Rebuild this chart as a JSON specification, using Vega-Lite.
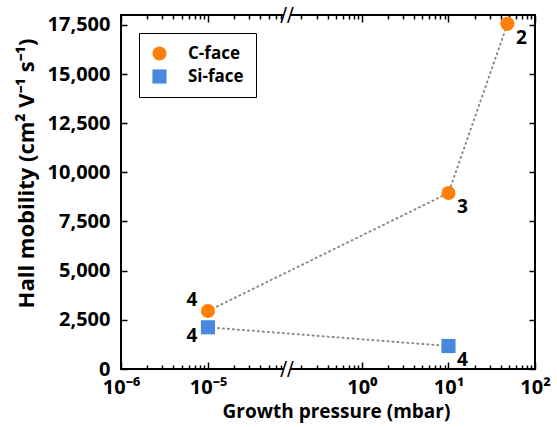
{
  "$schema": "https://vega.github.io/schema/vega-lite/v6.json",
  "width": 414,
  "height": 354,
  "autosize": {"type": "none"},
  "padding": {"left": 121, "top": 15, "right": 22, "bottom": 58},
  "background": "white",
  "config": {
    "font": "Open Sans",
    "view": {"stroke": "black", "strokeWidth": 2},
    "axis": {
      "labelFont": "Open Sans",
      "labelFontWeight": "bold",
      "labelFontSize": 20,
      "labelColor": "black",
      "titleFont": "Open Sans",
      "titleFontWeight": "bold",
      "titleFontSize": 19,
      "titleColor": "black",
      "ticks": true,
      "tickColor": "black",
      "tickOpacity": 1,
      "tickWidth": 1.5,
      "domain": false,
      "grid": false
    },
    "legend": {
      "labelFont": "Open Sans",
      "labelFontWeight": "bold",
      "labelFontSize": 17,
      "labelColor": "black"
    }
  },
  "datasets": {
    "pts": [
      {"series": "C-face", "pressure": 0.00001, "mobility": 2950, "n": "4"},
      {"series": "C-face", "pressure": 10, "mobility": 8950, "n": "3"},
      {"series": "C-face", "pressure": 48, "mobility": 17550, "n": "2"},
      {"series": "Si-face", "pressure": 0.00001, "mobility": 2120, "n": "4"},
      {"series": "Si-face", "pressure": 10, "mobility": 1170, "n": "4"}
    ],
    "brk": [
      {"pressure": 0.001, "mobility": 0},
      {"pressure": 0.001, "mobility": 18000}
    ]
  },
  "resolve": {"axis": {"x": "independent", "y": "independent"}},
  "layer": [
    {
      "data": {"name": "pts"},
      "mark": {"type": "line", "color": "#8a8a8a", "strokeWidth": 2, "strokeDash": [1, 4], "strokeCap": "round"},
      "encoding": {
        "x": {
          "field": "pressure", "type": "quantitative",
          "scale": {"type": "log", "domain": [0.000001, 0.000081, 0.136, 100], "range": [0, 166, 166, 414], "nice": false, "zero": false},
          "axis": {
            "orient": "bottom",
            "offset": -7,
            "values": [0.000001, 0.00001, 1, 10, 100],
            "labelExpr": "datum.value < 5e-6 ? '10⁻⁶' : datum.value < 5e-5 ? '10⁻⁵' : datum.value < 5 ? '10⁰' : datum.value < 50 ? '10¹' : '10²'",
            "ticks": true,
            "tickColor": "black",
            "tickWidth": 1.5,
            "tickSize": 7,
            "labelPadding": 8,
            "labelFlush": false,
            "labelOverlap": false,
            "title": "Growth pressure (mbar)",
            "titlePadding": 5,
            "titleX": 215
          }
        },
        "y": {
          "field": "mobility", "type": "quantitative",
          "scale": {"domain": [0, 18000], "nice": false},
          "axis": {
            "orient": "left",
            "offset": -6,
            "values": [0, 2500, 5000, 7500, 10000, 12500, 15000, 17500],
            "format": ",.0f",
            "ticks": true,
            "tickColor": "black",
            "tickSize": 6,
            "labelPadding": 11,
            "title": "Hall mobility (cm² V⁻¹ s⁻¹)",
            "titleFontSize": 22,
            "titlePadding": 9,
            "titleY": 158
          }
        },
        "detail": {"field": "series"}
      }
    },
    {
      "data": {"name": "pts"},
      "mark": {"type": "point", "filled": true, "opacity": 1, "size": 200},
      "encoding": {
        "x": {
          "field": "pressure", "type": "quantitative",
          "axis": {"orient": "top", "offset": -7, "values": [0.000001, 0.00001, 1, 10, 100], "labels": false, "ticks": true, "tickColor": "black", "tickSize": 7, "title": null}
        },
        "y": {
          "field": "mobility", "type": "quantitative",
          "axis": {"orient": "right", "offset": -6, "values": [0, 2500, 5000, 7500, 10000, 12500, 15000, 17500], "labels": false, "ticks": true, "tickColor": "black", "tickSize": 6, "title": null}
        },
        "color": {
          "field": "series", "type": "nominal",
          "scale": {"domain": ["C-face", "Si-face"], "range": ["#ff7f0a", "#4a88e0"]},
          "legend": {
            "title": null,
            "orient": "top-left",
            "offset": 18,
            "strokeColor": "black",
            "padding": 12,
            "rowPadding": 5,
            "symbolSize": 200,
            "labelOffset": 20,
            "symbolOpacity": 1
          }
        },
        "shape": {
          "field": "series", "type": "nominal",
          "scale": {"domain": ["C-face", "Si-face"], "range": ["circle", "square"]},
          "legend": null
        }
      }
    },
    {
      "data": {"name": "pts"},
      "transform": [{"filter": "datum.pressure > 1"}],
      "mark": {"type": "text", "dx": 14, "dy": 14, "fontSize": 19, "fontWeight": "bold", "color": "black", "font": "Open Sans"},
      "encoding": {
        "x": {
          "field": "pressure", "type": "quantitative",
          "axis": {"orient": "bottom", "offset": -4, "values": [0.000002, 0.000003, 0.000004, 0.000005, 0.000006, 0.000007, 0.000008, 0.000009, 0.00002, 0.00003, 0.00004, 0.00005, 0.00006, 0.00007, 0.2, 0.3, 0.4, 0.5, 0.6, 0.7, 0.8, 0.9, 2, 3, 4, 5, 6, 7, 8, 9, 20, 30, 40, 50, 60, 70, 80, 90], "labels": false, "ticks": true, "tickColor": "black", "tickSize": 4, "title": null}
        },
        "y": {"field": "mobility", "type": "quantitative", "axis": null},
        "text": {"field": "n"}
      }
    },
    {
      "data": {"name": "pts"},
      "transform": [{"filter": "datum.pressure < 1 && datum.series == 'C-face'"}],
      "mark": {"type": "text", "dx": -16, "dy": -11, "fontSize": 19, "fontWeight": "bold", "color": "black", "font": "Open Sans"},
      "encoding": {
        "x": {
          "field": "pressure", "type": "quantitative",
          "axis": {"orient": "top", "offset": -4, "values": [0.000002, 0.000003, 0.000004, 0.000005, 0.000006, 0.000007, 0.000008, 0.000009, 0.00002, 0.00003, 0.00004, 0.00005, 0.00006, 0.00007, 0.2, 0.3, 0.4, 0.5, 0.6, 0.7, 0.8, 0.9, 2, 3, 4, 5, 6, 7, 8, 9, 20, 30, 40, 50, 60, 70, 80, 90], "labels": false, "ticks": true, "tickColor": "black", "tickSize": 4, "title": null}
        },
        "y": {"field": "mobility", "type": "quantitative", "axis": null},
        "text": {"field": "n"}
      }
    },
    {
      "data": {"name": "pts"},
      "transform": [{"filter": "datum.pressure < 1 && datum.series == 'Si-face'"}],
      "mark": {"type": "text", "dx": -16, "dy": 9, "fontSize": 19, "fontWeight": "bold", "color": "black", "font": "Open Sans"},
      "encoding": {
        "x": {"field": "pressure", "type": "quantitative", "axis": null},
        "y": {"field": "mobility", "type": "quantitative", "axis": null},
        "text": {"field": "n"}
      }
    },
    {
      "data": {"name": "brk"},
      "mark": {"type": "point", "shape": "square", "filled": true, "color": "white", "opacity": 1, "size": 40},
      "encoding": {
        "x": {"field": "pressure", "type": "quantitative", "axis": null},
        "y": {"field": "mobility", "type": "quantitative", "axis": null}
      }
    },
    {
      "data": {"name": "brk"},
      "mark": {"type": "text", "text": "//", "fontSize": 20, "font": "DejaVu Sans", "color": "black", "baseline": "middle", "align": "center"},
      "encoding": {
        "x": {"field": "pressure", "type": "quantitative", "axis": null},
        "y": {"field": "mobility", "type": "quantitative", "axis": null}
      }
    }
  ]
}
